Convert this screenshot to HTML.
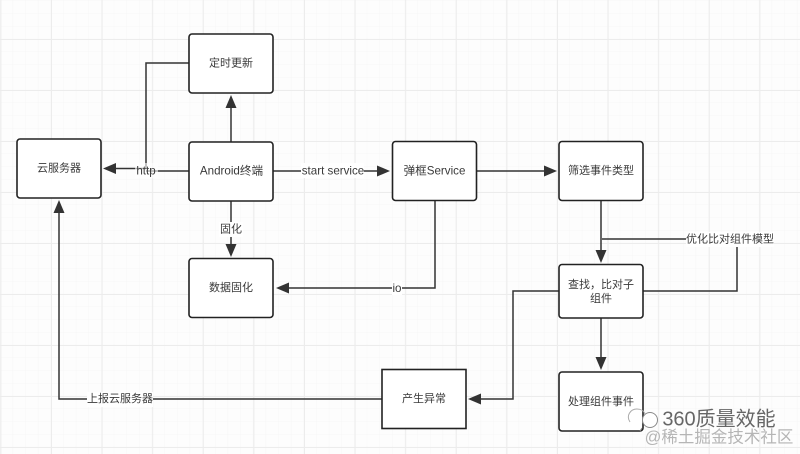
<!DOCTYPE html>
<html><head><meta charset="utf-8"><style>
html,body{margin:0;padding:0;background:#fff}
svg{display:block;filter:blur(.35px)}
text{font-family:"Liberation Sans","Noto Sans CJK SC",sans-serif;font-size:11px;fill:#3a3a3a;text-anchor:middle;dominant-baseline:central}
.w{font-size:11.6px}
.b{fill:#fff;stroke:#222;stroke-width:1.6}
.l{fill:none;stroke:#333;stroke-width:1.5}
.a{fill:#333}
.bg{fill:#fff}
</style></head><body>
<svg width="800" height="454" viewBox="0 0 800 454" xmlns="http://www.w3.org/2000/svg">
<defs>
<pattern id="g1" width="12.65" height="12.75" patternUnits="userSpaceOnUse" x="0.4" y="1">
<path d="M12.65 0V12.75M0 12.75H12.65" fill="none" stroke="#f6f6f6" stroke-width="1"/>
</pattern>
<pattern id="g2" width="50.6" height="51" patternUnits="userSpaceOnUse" x="0.4" y="39">
<path d="M0.5 0V51M0 .5H50.6" fill="none" stroke="#ececec" stroke-width="1"/>
</pattern>
</defs>
<rect width="800" height="454" fill="#fdfdfd"/>
<rect width="800" height="454" fill="url(#g1)"/>
<rect width="800" height="454" fill="url(#g2)"/>

<path class="l" d="M189 63H146V168M146 168.500H114"/>
<path class="l" d="M189 171H146"/>
<path class="a" d="M103 168.500L116 163V174Z"/>
<path class="l" d="M231 142V106"/><path class="a" d="M231 95L225.500 108H236.500Z"/>
<path class="l" d="M273 171H380"/><path class="a" d="M390 171L377 165.500V176.500Z"/>
<path class="l" d="M477 171H547"/><path class="a" d="M557 171L544 165.500V176.500Z"/>
<path class="l" d="M231 201V246"/><path class="a" d="M231 257L225.500 244H236.500Z"/>
<path class="l" d="M435 201V288H286"/><path class="a" d="M276 288L289 282.500V293.500Z"/>
<path class="l" d="M601 201V252"/><path class="a" d="M601 263L595.500 250H606.500Z"/>
<path class="l" d="M602 239H690M737 240V291H643"/>
<path class="l" d="M559 291H513V399H479"/><path class="a" d="M468 399L481 393.500V404.500Z"/>
<path class="l" d="M601 318V359"/><path class="a" d="M601 370L595.500 357H606.500Z"/>
<path class="l" d="M382 399H59V211"/><path class="a" d="M59 200L53.500 213H64.500Z"/>

<rect class="b" x="189" y="34" width="84" height="59" rx="3"/>
<rect class="b" x="189" y="142" width="84" height="59" rx="3"/>
<rect class="b" x="17" y="139" width="84" height="59" rx="3"/>
<rect class="b" x="392.500" y="141.500" width="84" height="59" rx="3"/>
<rect class="b" x="559" y="141.500" width="84" height="59" rx="3"/>
<rect class="b" x="559" y="264.500" width="84" height="53.500" rx="3"/>
<rect class="b" x="559" y="372" width="84" height="59" rx="3"/>
<rect class="b" x="189" y="258.500" width="84" height="59" rx="3"/>
<rect class="b" x="382" y="369.500" width="84" height="59" rx="0"/>

<text x="231" y="63.500">定时更新</text>
<text class="w" x="231.500" y="171">Android终端</text>
<text x="59" y="168.500">云服务器</text>
<text class="w" x="434.500" y="171">弹框Service</text>
<text x="601" y="171">筛选事件类型</text>
<text x="601" y="285">查找，比对子</text>
<text x="601" y="299">组件</text>
<text x="601" y="402">处理组件事件</text>
<text x="231" y="288">数据固化</text>
<text x="424" y="399">产生异常</text>

<rect class="bg" x="135" y="163" width="23" height="15" fill-opacity=".6"/>
<text class="w" x="146" y="171">http</text>
<rect class="bg" x="301" y="163" width="63" height="15"/>
<text class="w" x="333" y="171">start service</text>
<rect class="bg" x="219" y="222" width="24" height="15"/>
<text x="231" y="229.500">固化</text>
<rect class="bg" x="392" y="281" width="10" height="14"/>
<text class="w" x="397" y="288.500">io</text>
<rect class="bg" x="686" y="232" width="88" height="15"/>
<text x="730" y="239.500">优化比对组件模型</text>
<rect class="bg" x="87" y="392" width="66" height="15"/>
<text x="120" y="399">上报云服务器</text>

<g fill="none" stroke="#8a8a8a" stroke-width="1">
<path d="M630 422c-4 -6 0 -13 7 -13c4 0 7 2 8 5" stroke="#aaa"/>
<circle cx="650" cy="420" r="7.500" fill="#fff"/>
<path d="M642 428l-2 3"/>
</g>
<text x="719" y="419.500" style="font-size:20px;fill:#666">360质量效能</text>
<text x="719" y="437.500" style="font-size:16.500px;fill:#b5b5b5">@稀土掘金技术社区</text>
</svg>
</body></html>
